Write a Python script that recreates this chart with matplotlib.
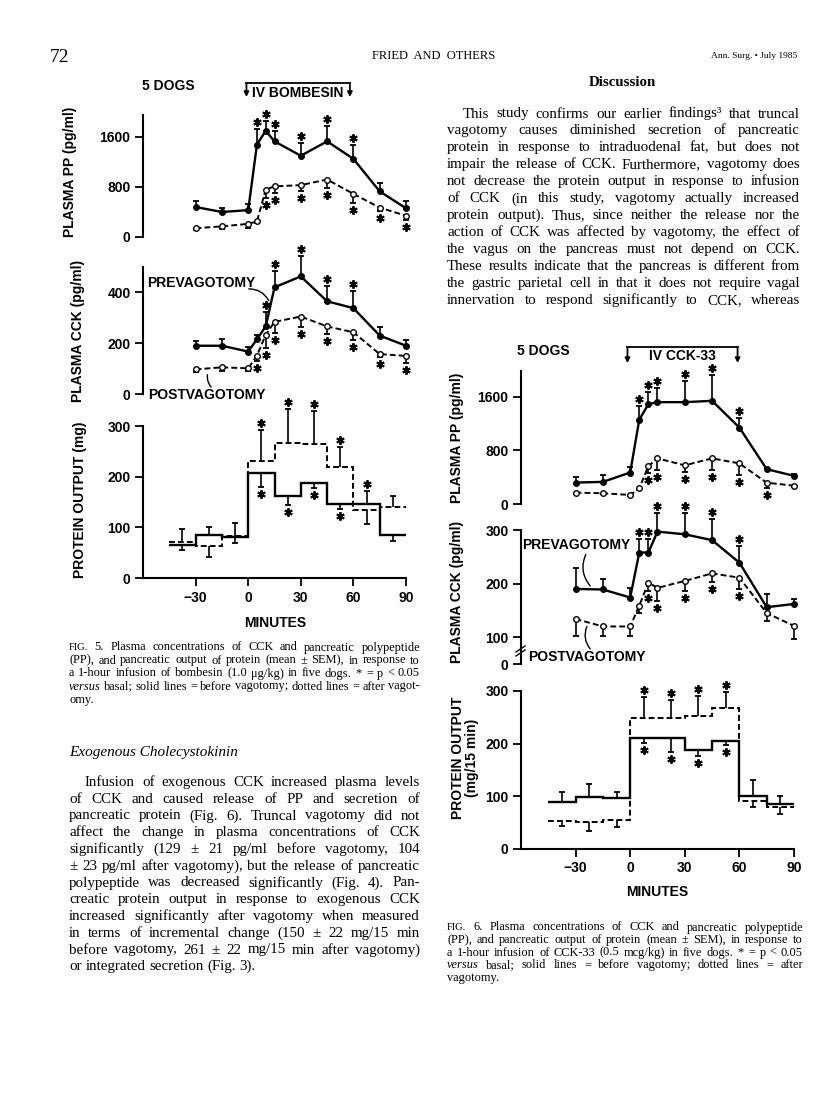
import numpy as np
import matplotlib
matplotlib.use("Agg")
import matplotlib.pyplot as plt
from matplotlib.transforms import offset_copy

plt.rcParams['font.family'] = 'Liberation Sans'
plt.rcParams['font.weight'] = 'bold'

W, H = 816, 1093
SERIF = 'Liberation Serif'

# sampling times (min) for plasma values, 15-min bins for protein output
times = [-30, -15, 0, 5, 10, 15, 30, 45, 60, 75, 90]
bins = [-45, -30, -15, 0, 15, 30, 45, 60, 75, 90]
xticks = [-30, 0, 30, 60, 90]
xticklabels = ['\u221230', '0', '30', '60', '90']

# ---- Fig. 5: IV bombesin ----
bom_pp_pre = [480, 400, 430, 1480, 1700, 1530, 1300, 1530, 1250, 730, 460]
bom_pp_pre_err = [90, 70, 100, 250, 160, 160, 210, 250, 230, 140, 120]
bom_pp_pre_sig = [0, 0, 0, 1, 1, 1, 1, 1, 1, 0, 0]
bom_pp_post = [140, 170, 210, 250, 760, 810, 830, 920, 690, 470, 340]
bom_pp_post_err = [-25, -45, -65, -30, -140, -110, -100, -140, -150, -60, -65]
bom_pp_post_sig = [0, 0, 0, 0, 1, 1, 1, 1, 1, 1, 1]

bom_cck_pre = [190, 190, 167, 216, 266, 420, 463, 365, 338, 230, 190]
bom_cck_pre_err = [20, 26, 17, 17, 55, 63, 79, 60, 66, 33, 21]
bom_cck_pre_sig = [0, 0, 0, 0, 1, 1, 1, 1, 1, 0, 0]
bom_cck_post = [97, 105, 101, 151, 233, 284, 305, 266, 243, 157, 150]
bom_cck_post_err = [-9, -13, -10, -23, -53, -45, -40, -30, -30, -12, -29]
bom_cck_post_sig = [0, 0, 0, 1, 1, 1, 1, 1, 1, 1, 1]

bom_prot_pre = [66, 84, 80, 207, 161, 187, 146, 146, 84]
bom_prot_pre_err = [-10, 17, -10, -27, -16, -9, -9, 25, -11]
bom_prot_pre_sig = [0, 0, 0, 1, 1, 1, 1, 1, 0]
bom_prot_post = [72, 63, 83, 231, 267, 264, 220, 135, 140]
bom_prot_post_err = [24, -22, 26, 62, 66, 65, 39, -28, 21]
bom_prot_post_sig = [0, 0, 0, 1, 1, 1, 1, 0, 0]

# ---- Fig. 6: IV CCK-33 ----
cck_pp_pre = [320, 330, 470, 1260, 1490, 1520, 1520, 1540, 1140, 520, 420]
cck_pp_pre_err = [90, 100, 75, 210, 180, 210, 310, 385, 150, 20, 35]
cck_pp_pre_sig = [0, 0, 0, 1, 1, 1, 1, 1, 1, 0, 0]
cck_pp_post = [170, 160, 135, 235, 567, 681, 577, 681, 606, 318, 273]
cck_pp_post_err = [-15, -15, -15, -20, -110, -175, -95, -175, -175, -85, -20]
cck_pp_post_sig = [0, 0, 0, 0, 1, 1, 1, 1, 1, 1, 0]

cck_cck_pre = [190, 189, 174, 258, 258, 297, 292, 281, 239, 156, 162]
cck_cck_pre_err = [40, 20, 18, 25, 25, 35, 40, 40, 32, 25, 9]
cck_cck_pre_sig = [0, 0, 0, 1, 1, 1, 1, 1, 1, 0, 0]
cck_cck_post = [134, 120, 120, 159, 202, 192, 205, 219, 211, 145, 121]
cck_cck_post_err = [-31, -18, -17, -13, -16, -25, -19, -16, -21, -14, -24]
cck_cck_post_sig = [0, 0, 0, 0, 1, 1, 1, 1, 1, 0, 0]

cck_prot_pre = [89, 99, 97, 211, 211, 188, 205, 101, 85]
cck_prot_pre_err = [20, 24, 12, -10, -26, -11, -8, 30, 15]
cck_prot_pre_sig = [0, 0, 0, 1, 1, 1, 1, 0, 0]
cck_prot_post = [54, 51, 55, 249, 249, 252, 268, 92, 80]
cck_prot_post_err = [-10, -16, -13, 39, 34, 39, 31, -12, -14]
cck_prot_post_sig = [0, 0, 0, 1, 1, 1, 1, 0, 0]

fig = plt.figure(figsize=(W / 100, H / 100), dpi=100)
fig.patch.set_facecolor('white')


def ptext(x, y, s, **kw):
    return fig.text(x / W, 1 - y / H, s, **kw)


def panel(x0, y0, x1, y1, ylim, yticks, ylabels=None, bottom=False, top=None):
    ax = fig.add_axes([x0 / W, 1 - y1 / H, (x1 - x0) / W, (y1 - y0) / H])
    ax.patch.set_alpha(0)
    ax.set_xlim(-60, 90)
    ax.set_ylim(*ylim)
    ax.spines['top'].set_visible(False)
    ax.spines['right'].set_visible(False)
    ax.spines['left'].set_linewidth(1.5)
    if top is not None:
        ax.spines['left'].set_bounds(ylim[0], top)
    ax.set_yticks(yticks)
    if ylabels:
        ax.set_yticklabels(ylabels)
    if bottom:
        ax.spines['bottom'].set_linewidth(1.5)
        ax.set_xticks(xticks)
        ax.set_xticklabels(xticklabels)
    else:
        ax.spines['bottom'].set_visible(False)
        ax.set_xticks([])
    ax.tick_params(length=6, width=1.3, labelsize=10, pad=3)
    return ax


def bars(ax, x, y, err, sig):
    x = np.asarray(x, float)
    y = np.asarray(y, float)
    err = np.asarray(err, float)
    tip = y + err
    ax.vlines(x, y, tip, color='k', lw=1.2, clip_on=False, zorder=2)
    ax.plot(x, tip, ls='none', marker='_', ms=5, mew=1.3, color='k', clip_on=False, zorder=2)
    sig = np.asarray(sig, bool)
    for d in (1, -1):
        m = sig & (np.sign(err) == d)
        tr = offset_copy(ax.transData, fig=fig, x=0, y=7 * d, units='dots')
        ax.plot(x[m], tip[m], ls='none', marker=(6, 2, 0), ms=6, mew=1.4,
                color='k', transform=tr, clip_on=False)


def lines(ax, pre, pre_err, pre_sig, post, post_err, post_sig):
    bars(ax, times, pre, pre_err, pre_sig)
    bars(ax, times, post, post_err, post_sig)
    ax.plot(times, pre, color='k', lw=1.7, marker='o', ms=4, clip_on=False, zorder=3)
    ax.plot(times, post, color='k', lw=1.4, dashes=(3, 1.6), marker='o', ms=4,
            mfc='white', mew=1.0, clip_on=False, zorder=3)


def steps(ax, pre, pre_err, pre_sig, post, post_err, post_sig):
    mids = [(a + b) / 2 for a, b in zip(bins[:-1], bins[1:])]
    bars(ax, mids, pre, pre_err, pre_sig)
    bars(ax, mids, post, post_err, post_sig)
    ax.stairs(pre, bins, color='k', lw=1.7, baseline=None, clip_on=False)
    ax.stairs(post, bins, color='k', lw=1.4, linestyle=(0, (3, 1.6)), baseline=None, clip_on=False)


def bracket(ax, x0, x1, ytop, ytip, ytext, label):
    tr = ax.get_xaxis_transform()
    ax.plot([x0, x1], [ytop, ytop], color='k', lw=1.3, transform=tr, clip_on=False)
    for xx in (x0, x1):
        ax.annotate('', xy=(xx, ytip), xytext=(xx, ytop), xycoords=tr, textcoords=tr,
                    arrowprops=dict(arrowstyle='-|>', lw=1.3, color='k',
                                    mutation_scale=7, shrinkA=0, shrinkB=0))
    ax.text((x0 + x1) / 2, ytext, label, transform=tr, ha='center', va='center', fontsize=10)


def leader(p0, p1, rad):
    fig.add_artist(matplotlib.patches.FancyArrowPatch(
        (p0[0], H - p0[1]), (p1[0], H - p1[1]), transform=matplotlib.transforms.IdentityTransform(),
        arrowstyle='-', connectionstyle='arc3,rad=%s' % rad, lw=1.0, color='k'))


# ---------------- Fig. 5 ----------------
a1 = panel(143, 112, 406, 237, (0, 2000), [0, 800, 1600], top=1960)
lines(a1, bom_pp_pre, bom_pp_pre_err, bom_pp_pre_sig, bom_pp_post, bom_pp_post_err, bom_pp_post_sig)
bracket(a1, -1, 58, 1.232, 1.12, 1.152, 'IV BOMBESIN')
ptext(142, 86, '5 DOGS', fontsize=10, va='center')

a2 = panel(143, 267, 406, 394, (0, 500), [0, 200, 400])
lines(a2, bom_cck_pre, bom_cck_pre_err, bom_cck_pre_sig, bom_cck_post, bom_cck_post_err, bom_cck_post_sig)
ptext(147, 283, 'PREVAGOTOMY', fontsize=10, va='center')
ptext(148, 395, 'POSTVAGOTOMY', fontsize=10, va='center')
leader((246, 289), (270, 303), -0.35)
leader((208, 372), (213, 389), 0.3)

a3 = panel(143, 426, 406, 578, (0, 300), [0, 100, 200, 300], bottom=True)
steps(a3, bom_prot_pre, bom_prot_pre_err, bom_prot_pre_sig, bom_prot_post, bom_prot_post_err, bom_prot_post_sig)
ptext(275, 623, 'MINUTES', fontsize=10, ha='center', va='center')

ptext(70, 172, 'PLASMA PP (pg/ml)', fontsize=10, rotation=90, ha='center', va='center')
ptext(78, 331, 'PLASMA CCK (pg/ml)', fontsize=10, rotation=90, ha='center', va='center')
ptext(80, 500, 'PROTEIN OUTPUT (mg)', fontsize=10, rotation=90, ha='center', va='center')

# ---------------- Fig. 6 ----------------
b1 = panel(521, 370, 794, 504, (0, 2000), [0, 800, 1600], top=1980)
lines(b1, cck_pp_pre, cck_pp_pre_err, cck_pp_pre_sig, cck_pp_post, cck_pp_post_err, cck_pp_post_sig)
bracket(b1, -1.5, 59, 1.172, 1.052, 1.104, 'IV CCK-33')
ptext(517, 351, '5 DOGS', fontsize=10, va='center')

b2 = panel(521, 530, 794, 664, (50, 300), [50, 100, 200, 300], ['0', '100', '200', '300'])
lines(b2, cck_cck_pre, cck_cck_pre_err, cck_cck_pre_sig, cck_cck_post, cck_cck_post_err, cck_cck_post_sig)
ptext(522, 545, 'PREVAGOTOMY', fontsize=10, va='center')
ptext(528, 657, 'POSTVAGOTOMY', fontsize=10, va='center')
leader((587, 552), (592, 588), 0.35)
leader((588, 624), (592, 651), 0.35)
# axis break on the CCK scale
for dy in (0, 4):
    fig.add_artist(matplotlib.lines.Line2D([516 / W, 525 / W], [1 - (652 + dy) / H, 1 - (646 + dy) / H],
                                           color='k', lw=1.0))

b3 = panel(521, 691, 794, 849, (0, 300), [0, 100, 200, 300], bottom=True)
steps(b3, cck_prot_pre, cck_prot_pre_err, cck_prot_pre_sig, cck_prot_post, cck_prot_post_err, cck_prot_post_sig)
ptext(657, 892, 'MINUTES', fontsize=10, ha='center', va='center')

ptext(457, 438, 'PLASMA PP (pg/ml)', fontsize=10, rotation=90, ha='center', va='center')
ptext(457, 592, 'PLASMA CCK (pg/ml)', fontsize=10, rotation=90, ha='center', va='center')
ptext(465, 758, 'PROTEIN OUTPUT\n(mg/15 min)', fontsize=10, rotation=90, ha='center', va='center',
      multialignment='center', linespacing=1.0)

# ---------------- page text ----------------
rend = fig.canvas.get_renderer()


def paragraph(rows, x0, x1, y0, dy, size, indent=0, last_full=False):
    space = size * 100 / 72 * 0.25
    for i, row in enumerate(rows):
        items = []
        for w in row.split():
            kw = dict(fontsize=size, family=SERIF, weight='normal')
            if w.startswith('_'):
                w = w[1:]
                kw['style'] = 'italic'
            if w.startswith('^'):
                w = w[1:]
                kw['fontsize'] = size * 0.85
            items.append(fig.text(0, 0, w, ha='left', va='baseline', **kw))
        widths = [t.get_window_extent(rend).width for t in items]
        left = x0 + (indent if i == 0 else 0)
        last = i == len(rows) - 1 and not last_full
        n = len(items) - 1
        if last or n < 1:
            gap = space
        else:
            gap = (x1 - left - sum(widths)) / n
            if gap < 0.75 * space:
                # line too long for the measure: shrink its words a little
                k = (x1 - left - n * 0.75 * space) / sum(widths)
                for t in items:
                    t.set_fontsize(t.get_fontsize() * k)
                widths = [t.get_window_extent(rend).width for t in items]
                gap = (x1 - left - sum(widths)) / n
        xx = left
        for t, w in zip(items, widths):
            t.set_position((xx / W, 1 - (y0 + i * dy) / H))
            xx += w + gap


ptext(50, 62, '72', fontsize=14, family=SERIF, weight='normal', va='baseline')
ptext(372, 59, 'FRIED  AND  OTHERS', fontsize=9, family=SERIF, weight='normal', va='baseline')
ptext(797, 58, 'Ann. Surg. \u2022 July 1985', fontsize=6.8, family=SERIF, weight='normal',
      va='baseline', ha='right')

cap5 = [
    '^FIG. 5. Plasma concentrations of CCK and pancreatic polypeptide',
    '(PP), and pancreatic output of protein (mean \u00b1 SEM), in response to',
    'a 1-hour infusion of bombesin (1.0 \u03bcg/kg) in five dogs. * = p < 0.05',
    '_versus basal; solid lines = before vagotomy; dotted lines = after vagot-',
    'omy.',
]
paragraph(cap5, 69, 420, 650.5, 13.0, 8.9)

ptext(69, 756, 'Exogenous Cholecystokinin', fontsize=11, family=SERIF, weight='normal',
      style='italic', va='baseline')
exo = [
    'Infusion of exogenous CCK increased plasma levels',
    'of CCK and caused release of PP and secretion of',
    'pancreatic protein (Fig. 6). Truncal vagotomy did not',
    'affect the change in plasma concentrations of CCK',
    'significantly (129 \u00b1 21 pg/ml before vagotomy, 104',
    '\u00b1 23 pg/ml after vagotomy), but the release of pancreatic',
    'polypeptide was decreased significantly (Fig. 4). Pan-',
    'creatic protein output in response to exogenous CCK',
    'increased significantly after vagotomy when measured',
    'in terms of incremental change (150 \u00b1 22 mg/15 min',
    'before vagotomy, 261 \u00b1 22 mg/15 min after vagotomy)',
    'or integrated secretion (Fig. 3).',
]
paragraph(exo, 69, 420, 786, 16.75, 10.8, indent=16)

ptext(622, 86, 'Discussion', fontsize=10.7, family=SERIF, weight='bold', ha='center', va='baseline')
disc = [
    'This study confirms our earlier findings\u00b3 that truncal',
    'vagotomy causes diminished secretion of pancreatic',
    'protein in response to intraduodenal fat, but does not',
    'impair the release of CCK. Furthermore, vagotomy does',
    'not decrease the protein output in response to infusion',
    'of CCK (in this study, vagotomy actually increased',
    'protein output). Thus, since neither the release nor the',
    'action of CCK was affected by vagotomy, the effect of',
    'the vagus on the pancreas must not depend on CCK.',
    'These results indicate that the pancreas is different from',
    'the gastric parietal cell in that it does not require vagal',
    'innervation to respond significantly to CCK, whereas',
]
paragraph(disc, 447, 800, 117.5, 16.97, 10.8, indent=16, last_full=True)

cap6 = [
    '^FIG. 6. Plasma concentrations of CCK and pancreatic polypeptide',
    '(PP), and pancreatic output of protein (mean \u00b1 SEM), in response to',
    'a 1-hour infusion of CCK-33 (0.5 mcg/kg) in five dogs. * = p < 0.05',
    '_versus basal; solid lines = before vagotomy; dotted lines = after',
    'vagotomy.',
]
paragraph(cap6, 447, 803, 930.5, 12.55, 8.9)

fig.savefig('out.png', dpi=100)
